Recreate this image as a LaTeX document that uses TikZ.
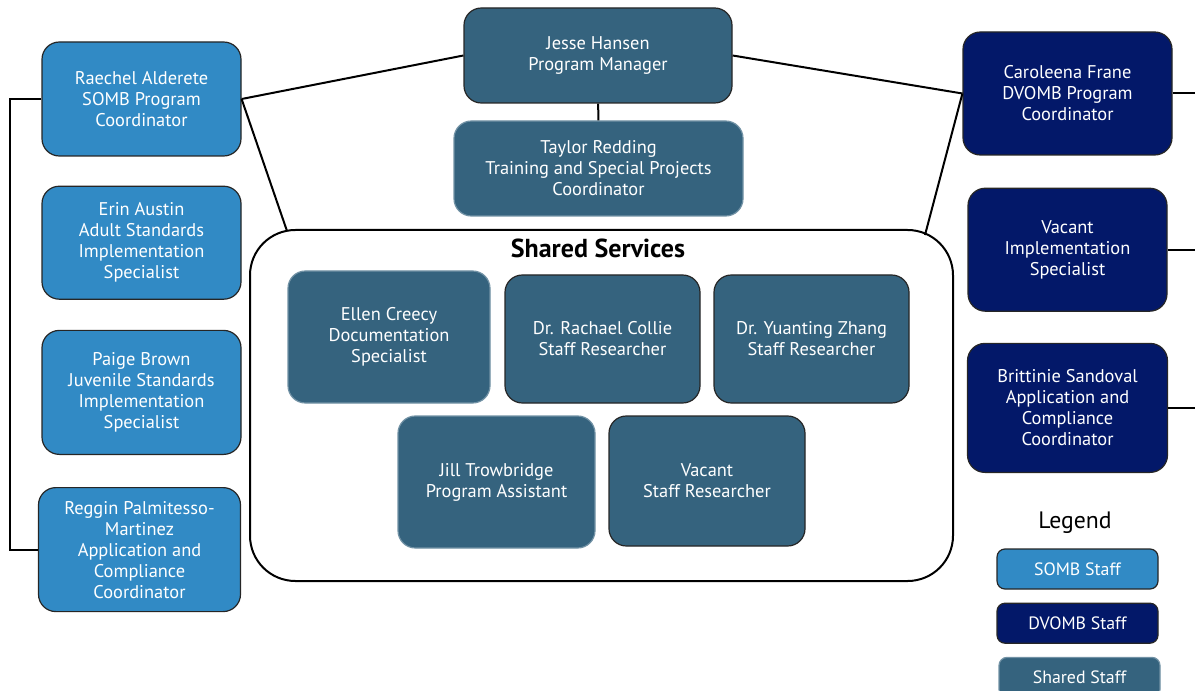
\documentclass[tikz,border=0pt]{standalone}
\usepackage{fontspec}
\setmainfont{PT Sans}
\usetikzlibrary{positioning}
\definecolor{sombblue}{RGB}{49,138,197}
\definecolor{dvombnavy}{RGB}{3,24,105}
\definecolor{sharedteal}{RGB}{53,99,126}

\begin{document}
\begin{tikzpicture}[x=0.75pt,y=-0.75pt,line width=1.5pt,
    staff/.style={rounded corners=13pt,text=white,align=center,inner sep=0pt,
      font=\fontsize{13.8}{15.75}\selectfont,draw=black!85,line width=0.9pt},
    somb/.style={staff,fill=sombblue},
    dvomb/.style={staff,fill=dvombnavy},
    shared/.style={staff,fill=sharedteal},
    plain/.style={draw=sharedteal!70!white},
    legendbox/.style={minimum width=120.75pt,minimum height=30pt,rounded corners=6pt,
      font=\fontsize{13.4}{15}\selectfont}]
  \useasboundingbox (0,0) rectangle (1195,691);

  % management
  \node [shared,minimum width=201pt,minimum height=71.25pt] (JH) at (598,55.5)
        {Jesse Hansen\\Program Manager};
  \node [shared,plain,minimum width=216.75pt,minimum height=71.25pt] (TR) at (598.5,168.5)
        {Taylor Redding\\Training and Special Projects\\Coordinator};

  % SOMB column
  \node [somb,minimum width=149.25pt,minimum height=85.5pt] (RA) at (141.5,99)
        {Raechel Alderete\\SOMB Program\\Coordinator};
  \node [somb,minimum width=149.25pt,minimum height=84.75pt,below=21.75pt of RA] (EA)
        {Erin Austin\\Adult Standards\\Implementation\\Specialist};
  \node [somb,minimum width=149.25pt,minimum height=93pt,below=22.5pt of EA] (PB)
        {Paige Brown\\Juvenile Standards\\Implementation\\Specialist};
  \node [somb,minimum width=151.5pt,minimum height=93pt,below=24pt of PB,xshift=-1.5pt] (RG)
        {Reggin Palmitesso-\\Martinez\\Application and\\Compliance\\Coordinator};

  % DVOMB column
  \node [dvomb,minimum width=156.75pt,minimum height=92.25pt] (CF) at (1067.5,93.5)
        {Caroleena Frane\\DVOMB Program\\Coordinator};
  \node [dvomb,minimum width=149.25pt,minimum height=92.25pt,below=24pt of CF] (VI)
        {Vacant\\Implementation\\Specialist};
  \node [dvomb,minimum width=150pt,minimum height=96.75pt,below=23.25pt of VI] (BS)
        {Brittinie Sandoval\\Application and\\Compliance\\Coordinator};

  % shared services
  \node [draw,rounded corners=34pt,minimum width=527.25pt,minimum height=263.25pt] (SS)
        at (601.5,405.5) {};
  \node [font=\fontsize{19.5}{22}\selectfont\bfseries] (SStitle) at (598,248) {Shared Services};
  \node [shared,plain,minimum width=151.5pt,minimum height=99pt] (EC) at (389,337)
        {Ellen Creecy\\Documentation\\Specialist};
  \node [shared,minimum width=146.25pt,minimum height=96pt] (RC) at (602.5,339)
        {Dr. Rachael Collie\\Staff Researcher};
  \node [shared,minimum width=146.25pt,minimum height=96pt] (YZ) at (811.5,339)
        {Dr. Yuanting Zhang\\Staff Researcher};
  \node [shared,plain,minimum width=147.75pt,minimum height=99pt] (JT) at (496.5,482)
        {Jill Trowbridge\\Program Assistant};
  \node [shared,minimum width=147pt,minimum height=97.5pt] (VS) at (707,481)
        {Vacant\\Staff Researcher};
  \coordinate (SSleft) at (287,231);
  \coordinate (SSright) at (925,235);

  % legend
  \node [font=\fontsize{17.8}{20}\selectfont] (LG) at (1075,523) {Legend};
  \node [somb,legendbox] (Lsomb) at (1077.5,569) {SOMB Staff};
  \node [dvomb,legendbox,below=9.75pt of Lsomb] (Ldvomb) {DVOMB Staff};
  \node [shared,plain,legendbox,below=9.75pt of Ldvomb,xshift=1.5pt] (Lshared) {Shared Staff};

  % connectors
  \draw (JH) -- (TR);
  \draw (RA.east) -- (JH.west);
  \draw (JH.east) -- (CF.west);
  \draw (RA.east) -- (SSleft);
  \draw (CF.west) -- (SSright);
  \draw (RA.west) -- ++(-31,0) |- (RG.west);
  \draw (CF.east) -- ++(25,0);
  \draw (VI.east) -- ++(30,0);
  \draw (BS.east) -- ++(28,0);
\end{tikzpicture}
\end{document}
